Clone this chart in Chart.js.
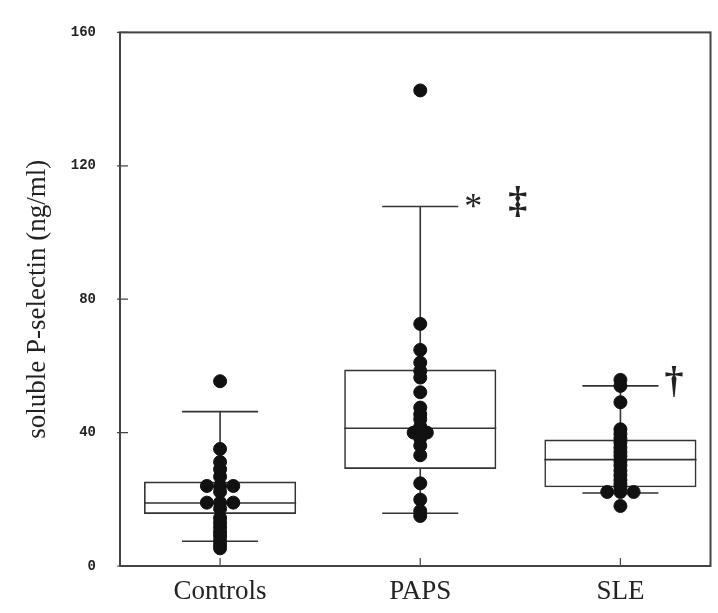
<!DOCTYPE html>
<html><head><meta charset="utf-8">
<script src="https://cdn.jsdelivr.net/npm/chart.js@4/dist/chart.umd.min.js"></script>
<style>html,body{margin:0;padding:0;background:#fff;}</style>
</head><body>
<canvas id="c" width="718" height="613"></canvas>
<script>
// ---- data ----
const categories = ['Controls', 'PAPS', 'SLE'];
const controlsValues = [55.4, 35.1, 31.2, 29.0, 26.8, 24, 24, 24, 22.3, 19, 19, 19, 17.2, 14.4, 13.0, 11.6, 10.2, 9.0, 7.6, 6.4, 5.3];
const papsValues = [142.6, 72.6, 64.8, 61.0, 58.5, 56.5, 52.1, 47.5, 45.5, 44.0, 41.8, 40, 40, 38.3, 36.1, 33.2, 24.8, 19.9, 16.5, 15.0];
const sleValues = [55.8, 54.0, 49.1, 41.0, 39.6, 38.2, 37.0, 35.5, 34.2, 33.0, 31.5, 30.2, 28.6, 27.2, 25.8, 24.6, 23.6, 22.2, 22.2, 22.2, 18.0];
const whiskerLow = [7.4, 15.8, 21.9];
const q1 = [15.6, 29.1, 23.6];
const median = [18.9, 41.3, 31.9];
const q3 = [25.3, 58.9, 37.9];
const whiskerHigh = [46.3, 107.8, 54.0];
const significance = [[], ['*', '\u2021'], ['\u2020']];
const yTicks = [0, 40, 80, 120, 160];
const yTitle = 'soluble P-selectin (ng/ml)';

// ---- build points: spread tied values side by side ----
function groupPoints(values, idx) {
  const counts = {};
  values.forEach(v => counts[v] = (counts[v] || 0) + 1);
  const seen = {};
  return values.map(v => {
    const n = counts[v];
    const k = seen[v] = (seen[v] === undefined ? 0 : seen[v] + 1);
    return { x: idx + (k - (n - 1) / 2) * 0.066, y: v };
  });
}
const allPoints = [controlsValues, papsValues, sleValues].flatMap((vals, i) => groupPoints(vals, i));

const INK = '#333';
const boxPlugin = {
  id: 'boxParts',
  beforeDatasetsDraw(chart) {
    const { ctx, scales: { x, y } } = chart;
    ctx.save();
    ctx.strokeStyle = INK;
    ctx.lineWidth = 1.6;
    categories.forEach((c, i) => {
      const cx = x.getPixelForValue(i);
      const boxL = x.getPixelForValue(i - 0.38), boxR = x.getPixelForValue(i + 0.38);
      const capL = x.getPixelForValue(i - 0.19), capR = x.getPixelForValue(i + 0.19);
      ctx.beginPath();
      ctx.moveTo(cx, y.getPixelForValue(q3[i])); ctx.lineTo(cx, y.getPixelForValue(whiskerHigh[i]));
      ctx.moveTo(cx, y.getPixelForValue(q1[i])); ctx.lineTo(cx, y.getPixelForValue(whiskerLow[i]));
      ctx.moveTo(capL, y.getPixelForValue(whiskerHigh[i])); ctx.lineTo(capR, y.getPixelForValue(whiskerHigh[i]));
      ctx.moveTo(capL, y.getPixelForValue(whiskerLow[i])); ctx.lineTo(capR, y.getPixelForValue(whiskerLow[i]));
      ctx.moveTo(boxL, y.getPixelForValue(median[i])); ctx.lineTo(boxR, y.getPixelForValue(median[i]));
      ctx.stroke();
    });
    ctx.restore();
  },
  afterDatasetsDraw(chart) {
    const { ctx, chartArea: a, scales: { x, y } } = chart;
    ctx.save();
    // frame
    ctx.strokeStyle = '#444';
    ctx.lineWidth = 2;
    ctx.strokeRect(a.left, a.top, a.right - a.left, a.bottom - a.top);
    // inward tick marks
    ctx.lineWidth = 1.2;
    ctx.beginPath();
    x.ticks.forEach(t => { const px = x.getPixelForValue(t.value); ctx.moveTo(px, a.bottom); ctx.lineTo(px, a.bottom - 8); });
    y.ticks.forEach(t => { const py = y.getPixelForValue(t.value); ctx.moveTo(a.left - 3, py); ctx.lineTo(a.left + 8, py); });
    ctx.stroke();
    // significance marks
    ctx.fillStyle = '#222';
    ctx.textBaseline = 'middle';
    ctx.textAlign = 'left';
    significance.forEach((marks, i) => {
      if (!marks.length) return;
      const capR = x.getPixelForValue(i + 0.19);
      const py = y.getPixelForValue(whiskerHigh[i]);
      let px = capR + 6;
      marks.forEach(m => {
        if (m === '*') {
          ctx.font = '36px "Liberation Serif", serif';
          ctx.fillText(m, px, py + 2);
          px += ctx.measureText(m).width + 26;
        } else {
          ctx.font = 'bold 38px "Liberation Serif", serif';
          ctx.fillText(m, px, py - 3);
          px += ctx.measureText(m).width + 20;
        }
      });
    });
    ctx.restore();
  }
};

new Chart(document.getElementById('c'), {
  type: 'bar',
  data: {
    datasets: [
      {
        type: 'scatter',
        data: allPoints,
        backgroundColor: '#111',
        borderColor: '#111',
        pointRadius: 6.5,
        pointHoverRadius: 6.5,
        order: 0
      },
      {
        type: 'bar',
        data: categories.map((c, i) => ({ x: i, y: [q1[i], q3[i]] })),
        backgroundColor: 'rgba(0,0,0,0)',
        borderColor: INK,
        borderWidth: 1.6,
        borderSkipped: false,
        barPercentage: 0.76,
        categoryPercentage: 1,
        order: 1
      }
    ]
  },
  options: {
    responsive: false,
    devicePixelRatio: 1,
    animation: false,
    events: [],
    layout: { padding: { top: 23, right: 4, left: 0, bottom: 0 } },
    plugins: { legend: { display: false }, tooltip: { enabled: false } },
    scales: {
      x: {
        type: 'linear',
        min: -0.5, max: 2.45,
        offset: false,
        grid: { display: false, drawTicks: false },
        border: { display: false },
        afterBuildTicks: s => { s.ticks = categories.map((c, i) => ({ value: i })); },
        afterFit: s => { s.height = 47; },
        ticks: {
          callback: v => categories[v] ?? '',
          padding: 10,
          maxRotation: 0,
          autoSkip: false,
          color: '#222',
          font: { family: '"Liberation Serif", serif', size: 27 }
        }
      },
      y: {
        min: 0, max: 160,
        grid: { display: false, drawTicks: false },
        border: { display: false },
        afterBuildTicks: s => { s.ticks = yTicks.map(v => ({ value: v })); },
        afterFit: s => { s.width = 120; },
        ticks: {
          padding: 24,
          color: '#222',
          font: { family: '"Liberation Mono", monospace', size: 14, weight: 'bold' }
        },
        title: {
          display: true,
          text: yTitle,
          color: '#222',
          padding: { top: 22, bottom: 0 },
          font: { family: '"Liberation Serif", serif', size: 27 }
        }
      }
    }
  },
  plugins: [boxPlugin]
});
</script>
</body></html>
